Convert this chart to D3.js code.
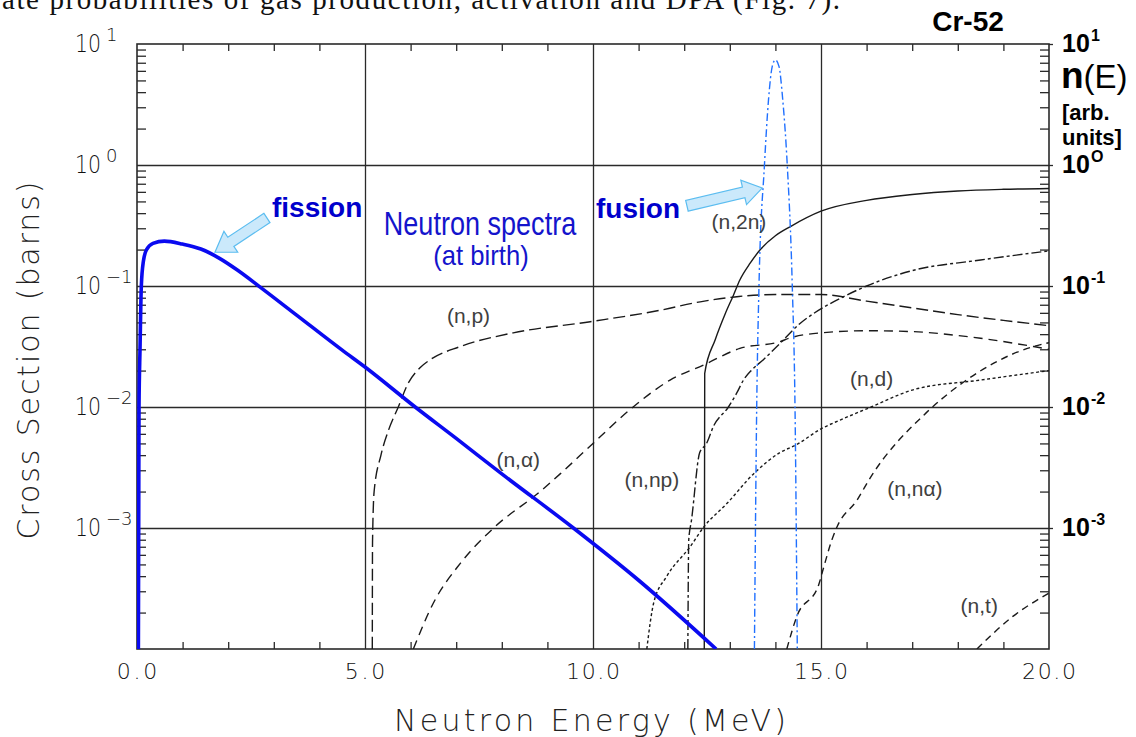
<!DOCTYPE html>
<html><head><meta charset="utf-8">
<script src="https://cdn.jsdelivr.net/npm/d3@7"></script>
<style>body{margin:0;background:#fff;overflow:hidden}svg{display:block}</style>
</head><body>
<svg id="c" width="1136" height="737"></svg>
<script>
// ---------- data ----------
const xTickValues = [0, 5, 10, 15, 20];
const xTickLabels = ["0.0", "5.0", "10.0", "15.0", "20.0"];
const xMinorTicks = [1,2,3,4,6,7,8,9,11,12,13,14,16,17,18,19];
const gridEnergies = [5, 10, 15];
const gridDecades = [1e-3, 1e-2, 1e-1, 1];
const leftDecades = [1e1, 1e0, 1e-1, 1e-2, 1e-3];
const leftExponents = ["1", "0", "\u22121", "\u22122", "\u22123"];
const rightExponents = ["1", "O", "-1", "-2", "-3"];

// neutron spectra (arb. units) [E MeV, n(E)]
const fission = [[0.03,1e-4],[0.037,0.001],[0.044,0.01],[0.066,0.03],[0.095,0.1],[0.14,0.16],[0.21,0.2],[0.35,0.225],[0.6,0.235],[1.0,0.222],[1.4,0.202],[1.8,0.17],[2.2,0.1355],[2.7,0.098],[3.5,0.0575],[4.5,0.0295],[5.0,0.0214],[6.1,0.01],[7.0,0.0055],[8.0,0.0028],[9.57,0.001],[11.0,0.00037],[12.7,0.0001]];
const fusion = [[13.54,1e-4],[13.59,0.01],[13.64,0.1],[13.76,1],[13.85,3.5],[13.93,6.5],[14.0,7.4],[14.08,6.5],[14.16,3.5],[14.26,1],[14.37,0.1],[14.43,0.01],[14.48,1e-4]];

// Cr-52 cross sections (barns) [E MeV, sigma]
const nP = [[5.16,1e-4],[5.165,7.6e-4],[5.2,0.002],[5.35,0.004],[5.52,0.0065],[5.73,0.01],[5.95,0.0158],[6.2,0.021],[6.43,0.0246],[7.09,0.0316],[8.25,0.041],[9.94,0.0507],[11.47,0.063],[12.35,0.074],[13.2,0.082],[14.0,0.085],[15.0,0.085],[16.0,0.075],[17.0,0.066],[18.0,0.058],[19.0,0.052],[20.0,0.047]];
const nAlpha = [[6.06,1e-4],[6.5,2.4e-4],[7.09,5.1e-4],[7.82,0.001],[8.84,0.002],[9.28,0.0028],[10.0,0.005],[10.88,0.01],[11.69,0.0167],[12.42,0.0222],[13.22,0.0305],[14.1,0.0347],[14.3,0.037],[15.0,0.041],[16.0,0.0427],[17.0,0.042],[18.0,0.039],[18.5,0.037],[19.66,0.0316],[20.0,0.030]];
const nNP = [[12.08,1e-4],[12.1,0.0008],[12.16,0.00116],[12.34,0.0042],[12.49,0.005],[12.64,0.0069],[12.97,0.01],[13.15,0.013],[13.3,0.0167],[13.48,0.0202],[13.73,0.0245],[14.14,0.0347],[14.54,0.049],[14.83,0.059],[15.42,0.079],[16.0,0.1],[17.0,0.134],[18.5,0.164],[20.0,0.195]];
const n2N = [[12.44,1e-4],[12.45,0.019],[12.68,0.036],[12.9,0.059],[13.08,0.084],[13.22,0.112],[13.45,0.155],[13.67,0.2],[14.0,0.26],[14.33,0.31],[15.0,0.415],[16.0,0.51],[17.0,0.57],[18.0,0.61],[19.0,0.63],[20.0,0.64]];
const nD = [[11.18,1e-4],[11.33,2.4e-4],[11.62,4e-4],[12.13,7e-4],[12.43,0.00102],[12.94,0.0016],[13.52,0.0028],[14.1,0.0042],[14.47,0.0049],[15.0,0.0066],[15.42,0.0078],[16.1,0.01],[17.0,0.0138],[18.5,0.0167],[20.0,0.02]];
const nNAlpha = [[14.25,1e-4],[14.47,1.86e-4],[14.95,3.4e-4],[15.05,4.6e-4],[15.24,8.0e-4],[15.35,0.00102],[15.79,0.0017],[16.08,0.0026],[17.3,0.0089],[18.1,0.0158],[19.66,0.0316],[20.0,0.034]];
const nT = [[18.42,1e-4],[19.2,1.85e-4],[20.0,2.9e-4]];

const reactionNames = ["(n,p)","(n,\u03b1)","(n,np)","(n,2n)","(n,d)","(n,n\u03b1)","(n,t)"];
const reactionLabelAt = [[7.27,0.0575],[8.36,0.0037],[11.29,0.0025],[13.2,0.34],[16.11,0.0173],[17.06,0.00213],[18.47,2.31e-4]];

// ---------- drawing ----------
const svg = d3.select("#c");
svg.append("rect").attr("width",1136).attr("height",737).attr("fill","#fff");
const x = d3.scaleLinear().domain([0,20]).range([137,1049]);
const y = d3.scaleLog().domain([1e-4,10]).range([649,44]);
const [x0,x1] = x.range(), [y0,y1] = y.range();
const ink = "#2a2a2a";

svg.append("defs").append("clipPath").attr("id","plot")
  .append("rect").attr("x",x0).attr("y",y1).attr("width",x1-x0).attr("height",y0-y1);

// page text (cropped at the top edge, as in the source scan)
svg.append("text").attr("x",2).attr("y",9)
  .attr("font-family","Liberation Serif, Times New Roman, serif").attr("font-size",29)
  .attr("textLength",838).attr("lengthAdjust","spacing").attr("fill","#111")
  .text("ate probabilities of gas production, activation and DPA (Fig. 7).");

function cleanAxis(sel){ sel.select(".domain").remove(); sel.selectAll("text").remove(); sel.selectAll("line").attr("stroke",ink).attr("stroke-width",1.3); }

// grid lines
svg.append("g").attr("transform",`translate(${x0},0)`)
  .call(d3.axisLeft(y).tickValues(gridDecades).tickSize(-(x1-x0)).tickFormat(""))
  .call(cleanAxis);
svg.append("g").attr("transform",`translate(0,${y0})`)
  .call(d3.axisBottom(x).tickValues(gridEnergies).tickSize(-(y0-y1)).tickFormat(""))
  .call(cleanAxis);

// minor ticks
const yMinor = [];
[1e-4,1e-3,1e-2,1e-1,1].forEach(d => { for (let k=2;k<=9;k++) yMinor.push(d*k); });
svg.append("g").attr("transform",`translate(${x0},0)`).call(d3.axisLeft(y).tickValues(yMinor).tickSize(-9).tickFormat("")).call(cleanAxis);
svg.append("g").attr("transform",`translate(${x1},0)`).call(d3.axisRight(y).tickValues(yMinor).tickSize(-9).tickFormat("")).call(cleanAxis);
svg.append("g").attr("transform",`translate(0,${y0})`).call(d3.axisBottom(x).tickValues(xMinorTicks).tickSize(-7).tickFormat("")).call(cleanAxis);
svg.append("g").attr("transform",`translate(0,${y1})`).call(d3.axisTop(x).tickValues(xMinorTicks).tickSize(-7).tickFormat("")).call(cleanAxis);
svg.append("g").attr("transform",`translate(${x1},0)`).call(d3.axisRight(y).tickValues(leftDecades).tickSize(4).tickFormat("")).call(cleanAxis);

// frame
svg.append("rect").attr("x",x0).attr("y",y1).attr("width",x1-x0).attr("height",y0-y1)
  .attr("fill","none").attr("stroke",ink).attr("stroke-width",1.6);

// curves
const line = d3.line().x(d=>x(d[0])).y(d=>y(d[1])).curve(d3.curveMonotoneX);
const plot = svg.append("g").attr("clip-path","url(#plot)");
const reactions = [nP, nAlpha, nNP, n2N, nD, nNAlpha, nT];
const dashes = ["12,5","9,6","10,3,3,3",null,"3,2.5","7,5","7,5"];
reactions.forEach((s,i)=>{
  plot.append("path").attr("d",line(s)).attr("fill","none").attr("stroke","#1a1a1a")
    .attr("stroke-width",1.4).attr("stroke-dasharray",dashes[i]);
});
plot.append("path").attr("d",line(fusion)).attr("fill","none").attr("stroke","#2070ff")
  .attr("stroke-width",1.4).attr("stroke-dasharray","8,3,2,3");
plot.append("path").attr("d",line(fission)).attr("fill","none").attr("stroke","#0a0af0")
  .attr("stroke-width",3.6).attr("stroke-linejoin","round");

// reaction labels
reactionNames.forEach((t,i)=>{
  svg.append("text").attr("x",x(reactionLabelAt[i][0])).attr("y",y(reactionLabelAt[i][1]))
    .attr("text-anchor","middle").attr("dominant-baseline","central")
    .attr("font-family","Liberation Sans, Arial, sans-serif").attr("font-size",21)
    .attr("fill","#404040").text(t);
});

// axis tick labels (left)
const axisFont = "DejaVu Sans, sans-serif";
leftDecades.forEach((d,i)=>{
  svg.append("text").attr("x",75).attr("y",y(d)+8).attr("font-family",axisFont).attr("font-weight",200)
    .attr("font-size",25).attr("fill","#111").attr("textLength",26).attr("lengthAdjust","spacingAndGlyphs").text("10");
  svg.append("text").attr("x",106).attr("y",y(d)-3).attr("font-family",axisFont).attr("font-weight",200)
    .attr("font-size",18).attr("fill","#111").text(leftExponents[i]);
});
// bottom tick labels
xTickValues.forEach((v,i)=>{
  svg.append("text").attr("x",x(v)).attr("y",y0+30).attr("text-anchor","middle")
    .attr("font-family",axisFont).attr("font-weight",200).attr("font-size",22).attr("fill","#111")
    .attr("textLength",xTickLabels[i].length*13.5).attr("lengthAdjust","spacing").text(xTickLabels[i]);
});
// axis titles
svg.append("text").attr("x",590).attr("y",731).attr("text-anchor","middle")
  .attr("font-family",axisFont).attr("font-weight",200).attr("font-size",30).attr("fill","#222")
  .attr("textLength",392).attr("lengthAdjust","spacing").text("Neutron Energy (MeV)");
svg.append("text").attr("transform",`translate(39,${(y0+y1)/2+14}) rotate(-90)`).attr("text-anchor","middle")
  .attr("font-family",axisFont).attr("font-weight",200).attr("font-size",30).attr("fill","#222")
  .attr("textLength",358).attr("lengthAdjust","spacing").text("Cross Section (barns)");

// right axis labels
const bold = "Liberation Sans, Arial, sans-serif";
leftDecades.forEach((d,i)=>{
  svg.append("text").attr("x",1062).attr("y",y(d)+8).attr("font-family",bold).attr("font-weight","bold")
    .attr("font-size",25).attr("fill","#000").text("10");
  svg.append("text").attr("x",1091).attr("y",y(d)-3).attr("font-family",bold).attr("font-weight","bold")
    .attr("font-size",16).attr("fill","#000").text(rightExponents[i]);
});
const nE = svg.append("text").attr("x",1061).attr("y",88).attr("font-family",bold).attr("fill","#000");
nE.append("tspan").attr("font-weight","bold").attr("font-size",37).text("n");
nE.append("tspan").attr("font-size",33).text("(E)");
svg.append("text").attr("x",1062).attr("y",120).attr("font-family",bold).attr("font-weight","bold").attr("font-size",22).text("[arb.");
svg.append("text").attr("x",1062).attr("y",145).attr("font-family",bold).attr("font-weight","bold").attr("font-size",22).text("units]");
svg.append("text").attr("x",968).attr("y",31).attr("text-anchor","middle").attr("font-family",bold)
  .attr("font-weight","bold").attr("font-size",28).text("Cr-52");

// annotations
const blue = "#0000cc";
svg.append("text").attr("x",272).attr("y",217).attr("font-family",bold).attr("font-weight","bold")
  .attr("font-size",28).attr("fill",blue).text("fission");
svg.append("text").attr("x",596).attr("y",218).attr("font-family",bold).attr("font-weight","bold")
  .attr("font-size",28).attr("fill",blue).text("fusion");
svg.append("text").attr("transform","translate(480,235) scale(0.82,1)").attr("text-anchor","middle").attr("font-family",bold)
  .attr("font-size",33).attr("fill","#1414cc").text("Neutron spectra");
svg.append("text").attr("transform","translate(481,265) scale(0.95,1)").attr("text-anchor","middle").attr("font-family",bold)
  .attr("font-size",27).attr("fill","#1414cc").text("(at birth)");

// block arrows (anchored in data coordinates)
const arrows = [ {tail:[2.85,0.365], tip:[1.71,0.19]}, {tail:[12.06,0.46], tip:[13.71,0.645]} ];
arrows.forEach(a=>{
  const tx=x(a.tail[0]), ty=y(a.tail[1]), hx=x(a.tip[0]), hy=y(a.tip[1]);
  const L=Math.hypot(hx-tx,hy-ty), ux=(hx-tx)/L, uy=(hy-ty)/L, nx=-uy, ny=ux;
  const sw=5.5, hw=12.5, hl=19, bx=hx-ux*hl, by=hy-uy*hl;
  const pts=[[tx+nx*sw,ty+ny*sw],[bx+nx*sw,by+ny*sw],[bx+nx*hw,by+ny*hw],[hx,hy],
             [bx-nx*hw,by-ny*hw],[bx-nx*sw,by-ny*sw],[tx-nx*sw,ty-ny*sw]];
  svg.append("polygon").attr("points",pts.map(p=>p.join(",")).join(" "))
    .attr("fill","#cbe9fb").attr("stroke","#5cbdf0").attr("stroke-width",1.2).attr("stroke-linejoin","miter");
});
</script>
</body></html>
